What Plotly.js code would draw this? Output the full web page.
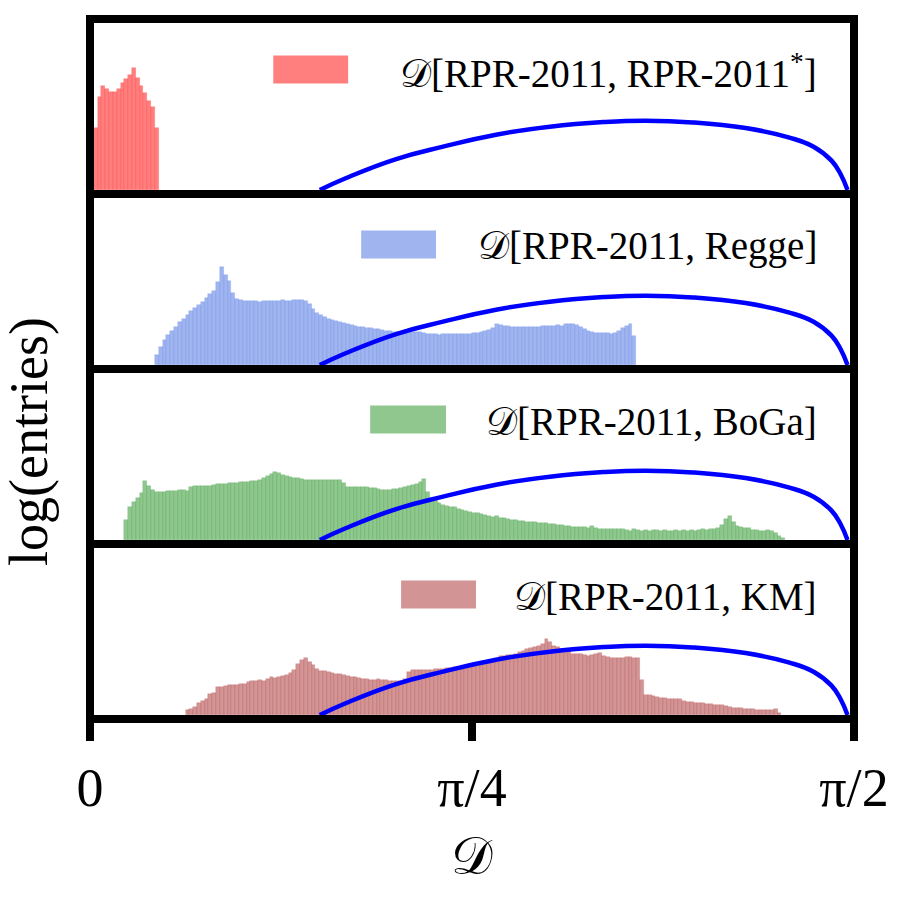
<!DOCTYPE html>
<html>
<head>
<meta charset="utf-8">
<script src="https://cdn.plot.ly/plotly-3.0.1.min.js"></script>
<style>
  html, body { margin: 0; padding: 0; background: #fff; }
  #chart { width: 900px; height: 900px; }
</style>
</head>
<body>
<div id="chart"></div>
<script>
// histograms share 200 bins over [0, pi/2]; heights are log(entries) in arbitrary units
const BIN_W = Math.PI / 400;

const LABELS = [
  '𝒟[RPR-2011, RPR-2011<sup>*</sup>]',
  '𝒟[RPR-2011, Regge]',
  '𝒟[RPR-2011, BoGa]',
  '𝒟[RPR-2011, KM]',
];

// first filled bin of each histogram
const FIRST_BIN = [1, 17, 9, 25];

const HIST_STAR = [62, 93, 104, 101, 98, 98, 101, 107, 111, 115, 122, 112, 104, 97, 89, 83, 62];

const HIST_REGGE = [
  10, 18, 25, 30, 34, 38, 43, 46, 50, 54, 57, 60, 63, 67, 71, 74, 83, 98, 90, 84, 72, 66,
  65, 64, 64, 64, 64, 63, 64, 64, 64, 64, 64, 65, 64, 64, 65, 65, 65, 64, 61,
  56, 52, 50, 48, 46, 45, 44, 43, 42, 41, 40, 39, 38, 38, 37, 37, 36, 36, 35, 34, 34,
  33, 33, 33, 33, 33, 33, 33, 33,
  32, 31, 31, 31, 30, 31, 31, 31, 31, 31, 31, 31, 31,
  32, 32, 33, 34, 35, 37, 41, 40, 39, 39, 38, 38, 38, 38, 38, 38, 38, 38, 39, 39, 39, 39,
  40, 39, 41, 41, 41, 40, 38, 36, 34, 33, 32, 32, 32, 32, 31, 32, 34, 37, 39, 41, 29,
];

const HIST_BOGA = [
  20, 33, 38, 42, 47, 59, 54, 50, 48, 48, 48, 49,
  49, 49, 50, 50, 49, 53, 54, 54, 54, 54, 54, 55, 56, 56, 56, 57, 57, 57, 58, 58,
  58, 59, 59, 60, 62, 64, 66, 68, 67, 65, 64, 63, 62, 62, 61, 60, 60, 60, 60, 60,
  60, 60, 60, 60, 60, 57, 53, 53, 53, 53, 53, 53, 52, 52, 51, 50, 50, 50, 51, 51,
  52, 53, 54, 55, 56, 58, 61, 48, 41, 40, 37, 35, 34, 33, 33, 31, 30, 29, 28, 27,
  27, 26, 25, 24, 23, 24, 22, 22, 21, 20, 20, 19, 19, 18, 18, 18, 17, 17, 17, 16,
  16, 15, 15, 14, 14, 13, 13, 13, 13, 12, 14, 12, 11, 11, 11, 11, 11, 11, 11, 10,
  9, 11, 10, 9, 10, 9, 10, 10, 9, 10, 9, 9, 10, 9, 10, 9, 10, 9, 10, 11,
  10, 11, 11, 12, 15, 21, 24, 18, 14, 13, 12, 12, 10, 10, 9, 9, 10, 9, 7, 4, 2,
];

const HIST_KM = [
  5, 6, 8, 12, 14, 16, 21, 22, 28, 28, 29, 30, 30, 30, 31, 31,
  33, 34, 34, 35, 34, 36, 38, 37, 38, 39, 40, 42, 45, 51, 55, 57, 53, 50, 46, 44,
  44, 43, 42, 41, 41, 40, 39, 38, 38, 37, 36, 36, 35, 35, 36, 35, 35, 34, 34, 34,
  34, 36, 43, 45, 45, 45, 45, 45, 45, 46, 46, 46, 47, 47, 48, 48, 48, 49, 50, 50,
  51, 51, 52, 52, 53, 53, 59, 59, 60, 60, 61, 63, 64, 66, 67, 68, 69, 71, 76, 73,
  69, 68, 66, 66, 65, 61, 61, 61, 60, 59, 60, 61, 62, 59, 58, 57, 57, 57, 57, 58,
  58, 57, 57, 35, 20, 20, 19, 18, 17, 17, 16, 16, 16, 16, 14, 13, 13, 12, 12, 12,
  11, 11, 10, 10, 10, 9, 8, 7, 7, 7, 6, 6, 6, 5, 5, 5, 5, 5, 6, 2,
];

// blue reference curve, same in every panel
const CURVE_X = [0.4725, 0.5267, 0.6294, 0.7259, 0.8347, 0.9456, 1.0556, 1.1427,
                 1.2392, 1.3480, 1.4363, 1.4877, 1.5246, 1.5431, 1.5575];
const CURVE_Y = [0, 12, 31, 43.4, 55.4, 63.4, 68, 69.4, 67.7, 62, 52.7, 43.4, 29.4, 16, 0];

const TICK_VALS = [0, Math.PI / 4, Math.PI / 2];
const TICK_TEXT = ['0', 'π/4', 'π/2'];

const HISTS = [HIST_STAR, HIST_REGGE, HIST_BOGA, HIST_KM];

// ── styling, top panel first ──────────────────────────────────────────────────
const FILL = ['rgba(255,0,0,0.5)', 'rgba(65,105,225,0.5)', 'rgba(0,128,0,0.44)', 'rgba(165,42,42,0.5)'];
const EDGE = ['rgba(255,0,0,0.25)', 'rgba(65,105,225,0.25)', 'rgba(0,128,0,0.22)', 'rgba(165,42,42,0.25)'];
const YAX  = ['y4', 'y3', 'y2', 'y'];
const SWATCH_X = [[0.2399, 0.3379], [0.3549, 0.4529], [0.3667, 0.4660], [0.4072, 0.5052]];

const SERIF = "'Liberation Serif', 'DejaVu Serif', serif";
const BORDER = 8;
const PANEL_PX = 701 / 4;

const traces = [];
const shapes = [];
const annotations = [];

HISTS.forEach((vals, p) => {
  traces.push({
    type: 'bar',
    x: vals.map((_, i) => (FIRST_BIN[p] + i + 0.5) * BIN_W),
    y: vals,
    width: BIN_W,
    yaxis: YAX[p],
    marker: { color: FILL[p], line: { color: EDGE[p], width: 0.6 } },
    showlegend: false, hoverinfo: 'skip',
  });
  traces.push({
    type: 'scatter', mode: 'lines',
    x: CURVE_X, y: CURVE_Y, yaxis: YAX[p],
    line: { color: '#0000ff', width: 4.5, shape: 'spline', smoothing: 1.3 },
    showlegend: false, hoverinfo: 'skip',
  });

  const dom = YAX[p] === 'y' ? 'y domain' : YAX[p] + ' domain';
  // panel frame
  shapes.push({
    type: 'rect', xref: 'paper', yref: dom, x0: 0, x1: 1, y0: 0, y1: 1,
    line: { color: '#000', width: BORDER }, layer: 'above',
  });
  // legend swatch
  shapes.push({
    type: 'rect', xref: 'paper', yref: dom,
    x0: SWATCH_X[p][0], x1: SWATCH_X[p][1],
    y0: 1 - 64.5 / PANEL_PX, y1: 1 - 36.5 / PANEL_PX,
    fillcolor: FILL[p], line: { width: 0 }, layer: 'above',
  });
  annotations.push({
    text: LABELS[p], xref: 'paper', yref: dom,
    x: 0.9536, y: 1 - 52.5 / PANEL_PX, xanchor: 'right', yanchor: 'middle',
    showarrow: false, font: { family: SERIF, size: 39, color: '#000' },
  });
});

annotations.push({
  text: 'log(entries)', textangle: -90, xref: 'paper', yref: 'paper',
  x: -0.0797, y: 0.3959, xanchor: 'center', yanchor: 'middle',
  showarrow: false, font: { family: SERIF, size: 54, color: '#000' },
});

function _yaxis(lo, hi) {
  return {
    domain: [lo, hi], anchor: 'x', range: [-4, PANEL_PX - 4],
    showticklabels: false, ticks: '', showgrid: false, zeroline: false, showline: false,
  };
}

const layout = {
  width: 900, height: 900,
  margin: { l: 89.5, r: 45.5, t: 18.5, b: 180.5 },
  paper_bgcolor: '#ffffff', plot_bgcolor: '#ffffff',
  bargap: 0, barmode: 'overlay',
  showlegend: false,
  xaxis: {
    range: [0, Math.PI / 2], anchor: 'y',
    tickvals: TICK_VALS, ticktext: TICK_TEXT,
    ticks: 'outside', ticklen: 21, tickwidth: 8, tickcolor: '#000',
    tickfont: { family: SERIF, size: 54, color: '#000' },
    showgrid: false, zeroline: false, showline: false,
    title: { text: '𝒟', font: { family: SERIF, size: 52, color: '#000' }, standoff: 20 },
  },
  yaxis:  _yaxis(0, 0.25),
  yaxis2: _yaxis(0.25, 0.5),
  yaxis3: _yaxis(0.5, 0.75),
  yaxis4: _yaxis(0.75, 1),
  shapes: shapes,
  annotations: annotations,
};

Plotly.newPlot('chart', traces, layout, { displayModeBar: false, responsive: false });
</script>
</body>
</html>
